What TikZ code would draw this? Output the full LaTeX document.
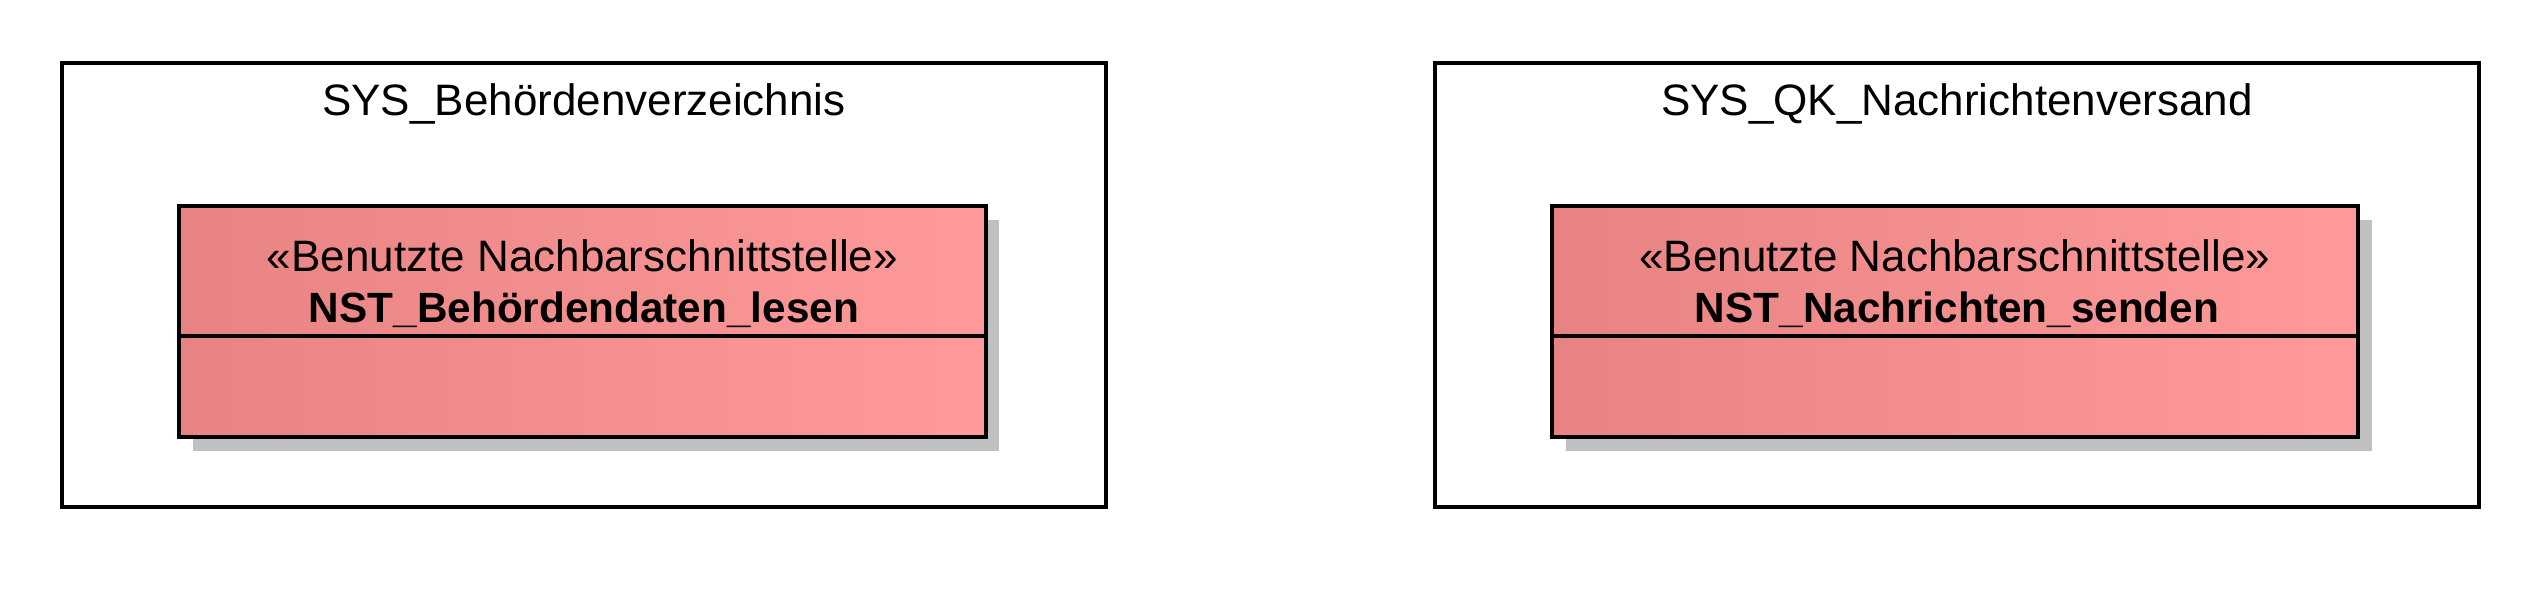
\documentclass[tikz,border=0pt]{standalone}
\usepackage{fontspec}
\setmainfont{Liberation Sans}
\begin{document}
\begin{tikzpicture}[x=1pt,y=-1pt,
  sysbox/.style={draw=black,line width=3.2pt,fill=white,inner sep=0pt,outer sep=0pt},
  ifacebox/.style={draw=black,line width=3.5pt,inner sep=0pt,outer sep=0pt,
    shading=axis,left color=ifaceL,right color=ifaceR,shading angle=90},
  shadowbox/.style={fill=shadowgray,draw=none},
  divider/.style={draw=black,line width=3.5pt},
  titletxt/.style={font=\fontsize{44}{52}\selectfont,inner sep=0pt,anchor=center},
  stereotxt/.style={font=\fontsize{44}{52}\selectfont,inner sep=0pt,anchor=center},
  nametxt/.style={font=\fontsize{42.3}{52}\selectfont\bfseries,inner sep=0pt,anchor=center}]
\definecolor{ifaceL}{RGB}{231,131,131}
\definecolor{ifaceR}{RGB}{255,154,154}
\definecolor{shadowgray}{RGB}{192,192,192}
\useasboundingbox (0,0) rectangle (2542,613);
% left system
\draw[sysbox] (62,63) rectangle (1106,507);
\node[titletxt] (sysAtitle) at (584,104) {SYS\_Behördenverzeichnis};
\fill[shadowbox] (193,220) rectangle (999,451);
\path[ifacebox] (179,206) rectangle (986,437);
\coordinate (ifAdl) at (179,336);
\coordinate (ifAdr) at (986,336);
\draw[divider] (ifAdl) -- (ifAdr);
\draw[line width=3.5pt] (179,206) rectangle (986,437);
\node[stereotxt] (ifAstereo) at (582.5,256) {«Benutzte Nachbarschnittstelle»};
\node[nametxt] (ifAname) at (584,310) {NST\_Behördendaten\_lesen};
% right system
\draw[sysbox] (1435,63) rectangle (2479,507);
\node[titletxt] (sysBtitle) at (1957,104) {SYS\_QK\_Nachrichtenversand};
\fill[shadowbox] (1566,220) rectangle (2372,451);
\path[ifacebox] (1552,206) rectangle (2358,437);
\coordinate (ifBdl) at (1552,336);
\coordinate (ifBdr) at (2358,336);
\draw[divider] (ifBdl) -- (ifBdr);
\draw[line width=3.5pt] (1552,206) rectangle (2358,437);
\node[stereotxt] (ifBstereo) at (1955,256) {«Benutzte Nachbarschnittstelle»};
\node[nametxt] (ifBname) at (1957,310) {NST\_Nachrichten\_senden};
\end{tikzpicture}
\end{document}
